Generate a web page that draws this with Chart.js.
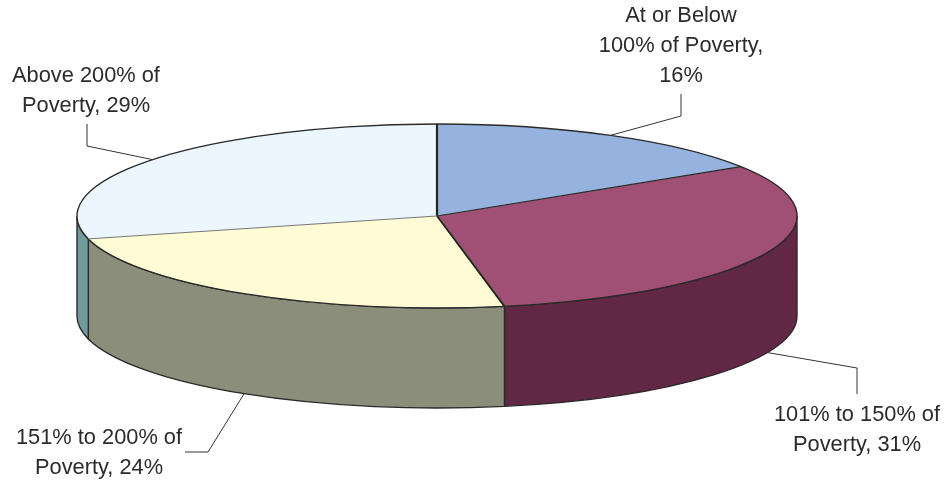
<!DOCTYPE html>
<html>
<head>
<meta charset="utf-8">
<script src="https://cdn.jsdelivr.net/npm/chart.js@4/dist/chart.umd.min.js"></script>
<style>
html, body { margin: 0; padding: 0; background: #fff; }
#wrap { width: 947px; height: 484px; }
</style>
</head>
<body>
<div id="wrap"><canvas id="poverty"></canvas></div>
<script>
const categories = ['At or Below 100% of Poverty', '101% to 150% of Poverty', '151% to 200% of Poverty', 'Above 200% of Poverty'];
const shares = [16, 31, 24, 29];
const labelLines = [
    ['At or Below', '100% of Poverty,', '16%'],
    ['101% to 150% of', 'Poverty, 31%'],
    ['151% to 200% of', 'Poverty, 24%'],
    ['Above 200% of', 'Poverty, 29%']
];
const topColors = ['#95b3de', '#a04f75', '#fffbd5', '#ebf6ff'];
const wallColors = ['#6d86a8', '#612745', '#8c8e7c', '#6f9a9e'];

// how flat the pie looks and how tall its side is
const squash = 92 / 360;
const depth = 100;
const outline = '#2a2a2a';

// line drawn from the centre at the start of each slice
const spokeWidths = [2.2, 1.2, 1.8, 1];
const spokeColors = ['#222', '#2a2a2a', '#222', '#777'];

// leader line bends and text placement for each slice
const leaders = [
    { bend: [[681, 116], [681, 94]], textX: 681, textY: 22 },
    { bend: [[857, 368], [857, 394]], textX: 857, textY: 421 },
    { bend: [[208, 452], [185, 452]], textX: 99, textY: 444 },
    { bend: [[87, 146], [87, 124]], textX: 86, textY: 82 }
];

const pie3d = {
    id: 'pie3d',
    beforeDatasetsDraw(chart) {
        const ctx = chart.ctx;
        chart.getDatasetMeta(0).data.forEach((arc, i) => {
            const a = Math.max(arc.startAngle, 0);
            const b = Math.min(arc.endAngle, Math.PI);
            if (a >= b) return;
            const r = arc.outerRadius;
            const ry = r * squash;
            ctx.save();
            ctx.beginPath();
            ctx.ellipse(arc.x, arc.y, r, ry, 0, a, b);
            ctx.ellipse(arc.x, arc.y + depth, r, ry, 0, b, a, true);
            ctx.closePath();
            ctx.fillStyle = wallColors[i];
            ctx.fill();
            ctx.strokeStyle = outline;
            ctx.lineWidth = 1.4;
            ctx.stroke();
            ctx.restore();
        });
        const first = chart.getDatasetMeta(0).data[0];
        ctx.save();
        ctx.translate(first.x, first.y);
        ctx.scale(1, squash);
        ctx.translate(-first.x, -first.y);
    },
    afterDatasetsDraw(chart) {
        const ctx = chart.ctx;
        ctx.restore();
        const arcs = chart.getDatasetMeta(0).data;
        arcs.forEach((arc, i) => {
            const r = arc.outerRadius;
            const ry = r * squash;
            ctx.save();
            ctx.beginPath();
            ctx.ellipse(arc.x, arc.y, r, ry, 0, arc.startAngle, arc.endAngle);
            ctx.strokeStyle = outline;
            ctx.lineWidth = 1.4;
            ctx.stroke();
            ctx.beginPath();
            ctx.moveTo(arc.x, arc.y);
            ctx.lineTo(arc.x + r * Math.cos(arc.startAngle), arc.y + ry * Math.sin(arc.startAngle));
            ctx.strokeStyle = spokeColors[i];
            ctx.lineWidth = spokeWidths[i];
            ctx.stroke();
            ctx.restore();
        });

        // leader lines start on the rim at the middle of each slice
        ctx.save();
        ctx.strokeStyle = '#333';
        ctx.lineWidth = 1;
        ctx.fillStyle = '#2b2b2b';
        ctx.font = '21.8px "Liberation Sans", Arial, sans-serif';
        ctx.textAlign = 'center';
        ctx.textBaseline = 'alphabetic';
        arcs.forEach((arc, i) => {
            const mid = (arc.startAngle + arc.endAngle) / 2;
            const x = arc.x + arc.outerRadius * Math.cos(mid);
            let y = arc.y + arc.outerRadius * squash * Math.sin(mid);
            if (Math.sin(mid) > 0) y += depth;
            ctx.beginPath();
            ctx.moveTo(x, y);
            leaders[i].bend.forEach(p => ctx.lineTo(p[0], p[1]));
            ctx.stroke();
            labelLines[i].forEach((line, n) => {
                ctx.fillText(line, leaders[i].textX, leaders[i].textY + n * 30);
            });
        });
        ctx.restore();
    }
};

new Chart(document.getElementById('poverty'), {
    type: 'pie',
    data: {
        labels: categories,
        datasets: [{
            data: shares,
            backgroundColor: topColors,
            borderWidth: 0
        }]
    },
    options: {
        responsive: true,
        maintainAspectRatio: false,
        animation: false,
        radius: 360,
        layout: { padding: { left: 0, right: 73, top: 0, bottom: 52 } },
        plugins: {
            legend: { display: false },
            tooltip: { enabled: false }
        }
    },
    plugins: [pie3d]
});
</script>
</body>
</html>
